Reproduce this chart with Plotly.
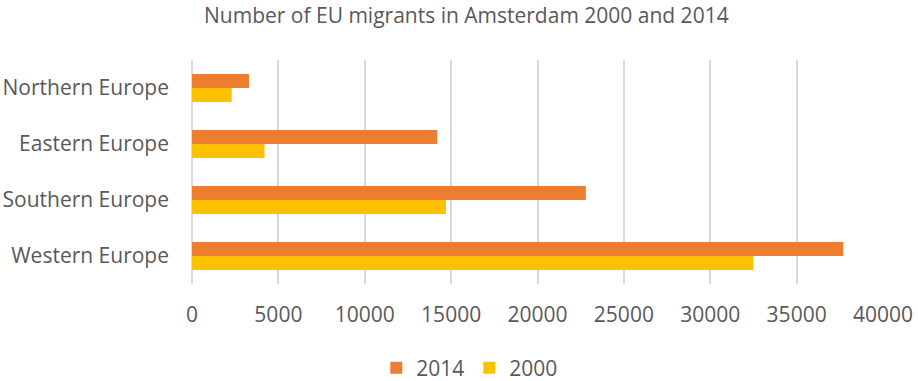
import plotly.graph_objects as go

# Regions listed bottom to top as they appear on the category axis
regions = ["Western Europe", "Southern Europe", "Eastern Europe", "Northern Europe"]
migrants_2014 = [37700, 22800, 14200, 3300]
migrants_2000 = [32500, 14700, 4200, 2300]
x_ticks = [0, 5000, 10000, 15000, 20000, 25000, 30000, 35000, 40000]

FONT = "Open Sans"
GREY = "#595959"

fig = go.Figure()
fig.add_trace(go.Bar(
    y=regions, x=migrants_2000, name="2000", orientation="h",
    marker=dict(color="#FFC000", line=dict(width=0)),
))
fig.add_trace(go.Bar(
    y=regions, x=migrants_2014, name="2014", orientation="h",
    marker=dict(color="#ED7D31", line=dict(width=0)),
))

fig.update_layout(
    width=918, height=381,
    margin=dict(l=192, r=35, t=60, b=97, autoexpand=False),
    paper_bgcolor="white", plot_bgcolor="white",
    barmode="group", bargap=0.5, bargroupgap=0,
    title=dict(text="Number of EU migrants in Amsterdam 2000 and 2014",
               x=0.508, xanchor="center", y=0.96, yanchor="middle",
               font=dict(family=FONT, size=21, color=GREY)),
    font=dict(family=FONT, color=GREY),
    legend=dict(orientation="h", x=0.402, xanchor="center", y=-0.375, yanchor="middle",
                traceorder="reversed", font=dict(size=21, color=GREY),
                itemwidth=30),
    xaxis=dict(range=[0, 40000], tickvals=x_ticks, ticktext=[str(v) for v in x_ticks],
               showgrid=True, gridcolor="#d9d9d9", gridwidth=1.5,
               zeroline=True, zerolinecolor="#d9d9d9", zerolinewidth=1.5,
               showline=False, ticks="", ticklabelstandoff=16, automargin=False,
               tickfont=dict(size=21, color=GREY), fixedrange=True),
    yaxis=dict(showgrid=False, zeroline=False, showline=False, ticks="",
               ticklabelstandoff=22, automargin=False,
               tickfont=dict(size=21, color=GREY)),
)

fig.write_html("out.html")
